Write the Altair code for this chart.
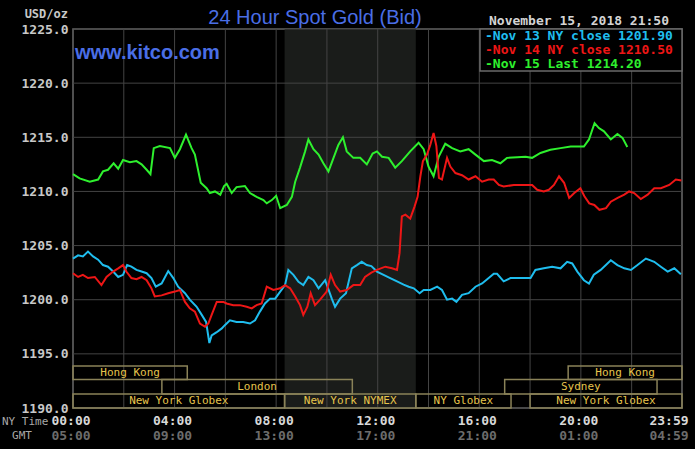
import altair as alt
import pandas as pd

# ---------------- data ----------------
green_hours = [0.0, 0.26, 0.66, 0.99, 1.18, 1.38, 1.6, 1.78, 1.97, 2.24, 2.5, 2.7, 2.9, 3.05, 3.18, 3.42,
               3.82, 4.01, 4.21, 4.45, 4.67, 4.8, 5.03, 5.26, 5.39, 5.59, 5.8, 5.95, 6.05, 6.25, 6.44, 6.77,
               6.97, 7.23, 7.5, 7.63, 7.83, 8.0, 8.16, 8.42, 8.62, 8.75, 8.94, 9.14, 9.27, 9.47, 9.67, 9.86,
               10.06, 10.26, 10.45, 10.63, 10.78, 11.04, 11.31, 11.57, 11.8, 11.97, 12.17, 12.43, 12.69,
               12.95, 13.28, 13.61, 13.81, 14.0, 14.2, 14.4, 14.66, 14.93, 15.25, 15.58, 15.85, 16.18, 16.5,
               16.83, 17.09, 17.49, 17.82, 18.08, 18.41, 18.8, 19.2, 19.6, 20.12, 20.32, 20.45, 20.54, 20.71,
               20.91, 21.18, 21.44, 21.64, 21.83]
green_vals = [1211.6, 1211.2, 1210.9, 1211.1, 1211.85, 1212.0, 1212.6, 1212.1, 1212.9, 1212.7, 1212.8, 1212.5,
              1212.0, 1211.6, 1214.0, 1214.2, 1214.0, 1213.1, 1213.9, 1215.25, 1214.0, 1213.4, 1210.8, 1210.3,
              1209.85, 1210.0, 1209.7, 1210.5, 1210.7, 1209.85, 1210.4, 1210.5, 1209.85, 1209.5, 1209.2, 1208.9,
              1209.2, 1209.6, 1208.45, 1208.75, 1209.5, 1210.9, 1212.2, 1213.7, 1214.8, 1213.9, 1213.4, 1212.6,
              1211.85, 1213.1, 1214.3, 1215.0, 1213.7, 1213.1, 1213.1, 1212.5, 1213.5, 1213.7, 1213.2, 1213.1,
              1212.2, 1212.8, 1213.7, 1214.5, 1213.9, 1212.3, 1211.4, 1213.2, 1214.4, 1214.0, 1213.7, 1213.9,
              1213.4, 1212.8, 1212.9, 1212.6, 1213.1, 1213.15, 1213.2, 1213.1, 1213.55, 1213.85, 1214.0, 1214.15,
              1214.15, 1214.8, 1215.7, 1216.3, 1215.85, 1215.55, 1214.8, 1215.3, 1214.95, 1214.1]

red_hours = [0.0, 0.2, 0.39, 0.59, 0.86, 1.12, 1.32, 1.58, 1.78, 1.97, 2.1, 2.3, 2.5, 2.7, 2.9, 3.09, 3.22,
             3.49, 3.75, 4.01, 4.21, 4.41, 4.6, 4.8, 5.0, 5.2, 5.33, 5.46, 5.66, 5.92, 6.05, 6.31, 6.57, 6.84,
             7.04, 7.23, 7.43, 7.63, 7.89, 8.16, 8.35, 8.55, 8.75, 8.94, 9.07, 9.23, 9.36, 9.53, 9.73, 9.99,
             10.15, 10.32, 10.52, 10.78, 11.04, 11.31, 11.5, 11.75, 11.97, 12.3, 12.56, 12.76, 12.86, 12.95,
             13.09, 13.28, 13.45, 13.57, 13.68, 13.78, 13.94, 14.07, 14.2, 14.31, 14.41, 14.53, 14.73, 14.86,
             15.06, 15.32, 15.58, 15.85, 16.11, 16.37, 16.57, 16.77, 16.96, 17.36, 17.82, 18.08, 18.28, 18.54,
             18.74, 18.94, 19.14, 19.34, 19.54, 19.74, 19.98, 20.14, 20.33, 20.53, 20.73, 20.99, 21.18, 21.45,
             21.71, 21.9, 22.1, 22.36, 22.63, 22.89, 23.15, 23.48, 23.74, 23.96]
red_vals = [1202.44, 1202.1, 1202.3, 1202.0, 1202.1, 1201.35, 1202.1, 1202.6, 1202.9, 1203.2, 1202.6, 1202.0,
            1201.9, 1202.1, 1201.8, 1201.05, 1200.3, 1200.4, 1200.6, 1200.75, 1200.9, 1199.8, 1199.2, 1198.9,
            1197.8, 1197.5, 1197.8, 1198.6, 1199.8, 1199.8, 1199.65, 1199.5, 1199.5, 1199.35, 1199.2, 1199.5,
            1199.65, 1201.2, 1200.9, 1201.05, 1201.35, 1201.05, 1200.3, 1199.5, 1198.6, 1199.35, 1200.6, 1199.5,
            1200.0, 1200.75, 1202.3, 1201.35, 1200.75, 1200.9, 1201.35, 1201.35, 1202.1, 1202.5, 1202.75,
            1203.05, 1202.9, 1202.75, 1204.3, 1207.7, 1207.85, 1207.5, 1208.6, 1209.5, 1211.4, 1212.8, 1213.4,
            1214.3, 1215.4, 1214.2, 1211.25, 1211.1, 1213.1, 1212.3, 1211.7, 1211.5, 1211.1, 1211.4, 1210.9,
            1211.1, 1211.1, 1210.6, 1210.45, 1210.6, 1210.6, 1210.6, 1210.15, 1210.0, 1210.15, 1210.6, 1211.4,
            1210.8, 1209.4, 1209.85, 1210.3, 1209.55, 1208.9, 1208.75, 1208.3, 1208.45, 1209.05, 1209.4,
            1209.7, 1210.0, 1209.85, 1209.3, 1209.7, 1210.3, 1210.3, 1210.6, 1211.1, 1211.0]

cyan_hours = [0.0, 0.2, 0.39, 0.59, 0.79, 0.99, 1.18, 1.38, 1.58, 1.78, 1.97, 2.13, 2.3, 2.5, 2.7, 2.9, 3.09,
              3.26, 3.49, 3.75, 3.95, 4.14, 4.41, 4.6, 4.87, 5.07, 5.24, 5.37, 5.46, 5.66, 5.86, 5.98, 6.18,
              6.44, 6.7, 6.97, 7.17, 7.36, 7.56, 7.76, 7.96, 8.16, 8.35, 8.48, 8.68, 8.88, 9.07, 9.27, 9.47,
              9.67, 9.93, 10.19, 10.32, 10.52, 10.75, 10.98, 11.18, 11.37, 11.57, 11.75, 11.97, 12.23, 12.49,
              12.76, 13.02, 13.22, 13.42, 13.65, 13.81, 14.07, 14.34, 14.53, 14.73, 14.93, 15.1, 15.32, 15.58,
              15.85, 16.11, 16.37, 16.57, 16.7, 16.96, 17.23, 17.62, 18.02, 18.21, 18.54, 18.87, 19.2, 19.46,
              19.66, 19.86, 20.12, 20.32, 20.51, 20.78, 21.18, 21.44, 21.71, 21.97, 22.23, 22.56, 22.89, 23.15,
              23.42, 23.68, 23.94]
cyan_vals = [1203.8, 1204.1, 1204.0, 1204.45, 1204.0, 1203.7, 1203.2, 1203.05, 1202.6, 1202.1, 1202.3, 1203.2,
             1203.05, 1202.75, 1202.6, 1202.45, 1202.0, 1201.2, 1201.5, 1202.65, 1202.0, 1201.2, 1200.6, 1200.0,
             1199.35, 1198.6, 1197.95, 1196.0, 1196.7, 1197.0, 1197.35, 1197.65, 1198.1, 1197.95, 1197.95,
             1197.8, 1198.1, 1198.9, 1199.65, 1200.1, 1200.1, 1200.75, 1201.35, 1202.75, 1202.3, 1201.65,
             1201.35, 1202.1, 1201.8, 1201.05, 1201.8, 1200.1, 1199.35, 1200.1, 1200.6, 1202.9, 1203.2, 1203.5,
             1203.2, 1203.1, 1202.6, 1202.3, 1202.0, 1201.7, 1201.4, 1201.2, 1201.05, 1200.6, 1200.9, 1200.9,
             1201.2, 1200.9, 1200.0, 1200.1, 1199.8, 1200.45, 1200.6, 1201.2, 1201.5, 1202.0, 1202.4, 1202.4,
             1201.7, 1202.0, 1202.0, 1202.0, 1202.75, 1202.9, 1203.05, 1202.9, 1203.5, 1203.35, 1202.6, 1201.8,
             1201.5, 1202.3, 1202.75, 1203.65, 1203.2, 1202.9, 1202.75, 1203.2, 1203.8, 1203.5, 1203.05,
             1202.6, 1202.9, 1202.35]

legend_names = ["Nov 13 NY close", "Nov 14 NY close", "Nov 15 Last"]
legend_values = [1201.90, 1210.50, 1214.20]
series_colors = ["#1fbdee", "#ee1616", "#2ef02e"]

y_ticks = [1190, 1195, 1200, 1205, 1210, 1215, 1220, 1225]
x_grid_hours = [2, 4, 6, 8, 10, 12, 14, 16, 18, 20, 22]
ny_label_hours = [0, 4, 8, 12, 16, 20]
ny_labels = ["00:00", "04:00", "08:00", "12:00", "16:00", "20:00"]
gmt_labels = ["05:00", "09:00", "13:00", "17:00", "21:00", "01:00"]
end_hour = 23.983
end_ny_label = "23:59"
end_gmt_label = "04:59"

pit_start = [8.333]
pit_end = [13.5]

session_names = ["Hong Kong", "Hong Kong", "London", "Sydney",
                 "New York Globex", "New York NYMEX", "NY Globex", "New York Globex"]
session_start = [0.0, 19.5, 3.5, 17.0, 0.0, 8.333, 13.5, 18.0]
session_end = [4.5, 23.983, 11.0, 23.0, 8.333, 13.5, 17.25, 23.983]
session_top = [1193.88, 1193.88, 1192.64, 1192.64, 1191.3, 1191.3, 1191.3, 1191.3]
session_bottom = [1192.64, 1192.64, 1191.3, 1191.3, 1190.0, 1190.0, 1190.0, 1190.0]

# ---------------- build ----------------
xs = alt.Scale(domain=[0, end_hour], nice=False, zero=False)
ys = alt.Scale(domain=[1190, 1225], nice=False, zero=False)
MONO = "DejaVu Sans Mono"
SANS = "Liberation Sans"

y_axis = alt.Axis(values=y_ticks, format=".1f", grid=False, ticks=False, domain=False,
                  labelFont=MONO, labelFontSize=13, labelFontWeight="bold",
                  labelColor="#c8c8c8", labelPadding=5, title=None)


def X(f):
    return alt.X(f, type="quantitative", scale=xs, axis=None)


def Y(f):
    return alt.Y(f, type="quantitative", scale=ys, axis=y_axis)


pit = alt.Chart(pd.DataFrame({"s": pit_start, "e": pit_end})).mark_rect(color="#1a1c1a").encode(
    x=X("s"), x2="e")

vgrid = alt.Chart(pd.DataFrame({"h": x_grid_hours})).mark_rule(color="#444444", strokeWidth=1).encode(x=X("h"))

hgrid = alt.Chart(pd.DataFrame({"p": y_ticks})).mark_rule(color="#444444", strokeWidth=1).encode(y=Y("p"))

sess_df = pd.DataFrame({"name": session_names, "s": session_start, "e": session_end,
                        "t": session_top, "b": session_bottom})
sess_box = alt.Chart(sess_df).mark_rect(fillOpacity=0, stroke="#8a8258", strokeWidth=1.5).encode(
    x=X("s"), x2="e", y=Y("t"), y2="b")
sess_txt = alt.Chart(sess_df).transform_calculate(
    m="(datum.s + datum.e) / 2", ym="(datum.t + datum.b) / 2").mark_text(
    font=MONO, fontSize=11, color="#e6c44c", baseline="middle", align="center").encode(
    x=X("m"), y=Y("ym"), text="name:N")


def line(h, v, color):
    return alt.Chart(pd.DataFrame({"hour": h, "price": v})).mark_line(
        color=color, strokeWidth=2, interpolate="linear").encode(x=X("hour"), y=Y("price"))


lines = [line(cyan_hours, cyan_vals, series_colors[0]),
         line(green_hours, green_vals, series_colors[2]),
         line(red_hours, red_vals, series_colors[1])]

# legend box
leg_box = alt.Chart(pd.DataFrame({"a": [0]})).mark_rect(fill="#000000", stroke="#6a6a6a", strokeWidth=1.5).encode(
    x=alt.value(407), x2=alt.value(609), y=alt.value(0), y2=alt.value(42))
leg_texts = []
for i, (n, v, c) in enumerate(zip(legend_names, legend_values, series_colors)):
    leg_texts.append(alt.Chart(pd.DataFrame({"t": [f"-{n} {v:.2f}"]})).mark_text(
        font=MONO, fontSize=13, fontWeight="bold", color=c, align="left", baseline="middle").encode(
        x=alt.value(412), y=alt.value(7 + 14 * i), text="t:N"))


def label(txt, x, y, **kw):
    return alt.Chart(pd.DataFrame({"t": [txt]})).mark_text(**kw).encode(
        x=alt.value(x), y=alt.value(y), text="t:N")


date_txt = label("November 15, 2018 21:50", 596, -8, font=MONO, fontSize=13, fontWeight="bold",
                 color="#d4d4d4", align="right", baseline="middle")
title_txt = label("24 Hour Spot Gold (Bid)", 242, -5, font=SANS, fontSize=20, color="#4a6ee6",
                  align="center", baseline="alphabetic")
kitco_txt = label("www.kitco.com", 2, 30, font=SANS, fontSize=20, fontWeight="bold", color="#4a6ee6",
                  align="left", baseline="alphabetic")
usd_txt = label("USD/oz", -5, -15, font=MONO, fontSize=12, fontWeight="bold", color="#c8c8c8",
                align="right", baseline="middle")
nyt_txt = label("NY Time", -71, 393, font=MONO, fontSize=11, color="#a8a8a8", align="left", baseline="middle")
gmt_txt = label("GMT", -51, 407, font=MONO, fontSize=11, color="#a8a8a8", align="center", baseline="middle")

ny_df = pd.DataFrame({"h": ny_label_hours, "ny": ny_labels, "g": gmt_labels})
ny_lab = alt.Chart(ny_df).mark_text(font=MONO, fontSize=13, fontWeight="bold", color="#d8d8d8",
                                    baseline="middle", dx=-2).encode(x=X("h"), y=alt.value(391.5), text="ny:N")
gmt_lab = alt.Chart(ny_df).mark_text(font=MONO, fontSize=13, fontWeight="bold", color="#6c6c6c",
                                     baseline="middle", dx=-2).encode(x=X("h"), y=alt.value(406.5), text="g:N")
end_df = pd.DataFrame({"h": [end_hour], "ny": [end_ny_label], "g": [end_gmt_label]})
end_ny = alt.Chart(end_df).mark_text(font=MONO, fontSize=13, fontWeight="bold", color="#d8d8d8",
                                     baseline="middle", dx=-13).encode(x=X("h"), y=alt.value(391.5), text="ny:N")
end_gmt = alt.Chart(end_df).mark_text(font=MONO, fontSize=13, fontWeight="bold", color="#6c6c6c",
                                      baseline="middle", dx=-13).encode(x=X("h"), y=alt.value(406.5), text="g:N")

chart = alt.layer(
    pit, vgrid, hgrid, sess_box, sess_txt, *lines, leg_box, *leg_texts,
    date_txt, title_txt, kitco_txt, usd_txt, nyt_txt, gmt_txt, ny_lab, gmt_lab, end_ny, end_gmt
).properties(
    width=609, height=379,
    padding={"left": 73, "top": 29, "right": 13, "bottom": 41},
    autosize=alt.AutoSizeParams(type="none"),
    background="#000000",
).configure_view(stroke="#6a6a6a", strokeWidth=1.5, fill="#000000")

chart.save("out.html", embed_options={"renderer": "svg", "actions": False})
